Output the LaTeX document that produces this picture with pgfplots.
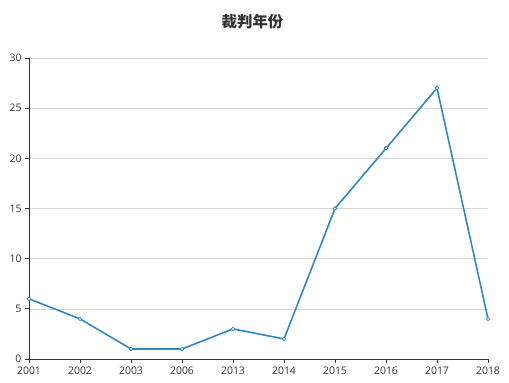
\documentclass[border=0pt]{standalone}
\usepackage{pgfplots}
\pgfplotsset{compat=1.18}
\usepackage{fontspec}
\setmainfont{Open Sans}
\newfontfamily\cjk{Noto Sans CJK SC}
\usetikzlibrary{calc}
\definecolor{lineblue}{HTML}{2E88C4}
\definecolor{axisgray}{HTML}{333333}
\definecolor{gridgray}{HTML}{D6D6D6}
\begin{document}
\begin{tikzpicture}
\begin{axis}[
  name=ax,
  at={(0,0)}, anchor=south west,
  scale only axis,
  width=459bp, height=301bp,
  xmin=0, xmax=9, ymin=0, ymax=30,
  xtick={0,...,9},
  xticklabels={2001,2002,2003,2006,2013,2014,2015,2016,2017,2018},
  ytick={0,5,...,30},
  axis x line*=bottom, axis y line*=left,
  axis line style={axisgray, line width=0.8pt, -},
  tick align=outside,
  major tick length=4bp,
  tick style={axisgray, line width=0.8pt},
  ymajorgrids,
  grid style={gridgray, line width=0.6pt},
  ticklabel style={font=\fontsize{10.5}{11}\selectfont, text=axisgray},
  /pgf/number format/assume math mode=true,
  clip=false,
]
\addplot[lineblue, line width=1.6pt, mark=*, mark size=1.8pt,
  mark options={fill=white, draw=lineblue, line width=0.8pt}]
  coordinates {(0,6) (1,4) (2,1) (3,1) (4,3) (5,2) (6,15) (7,21) (8,27) (9,4)};
\end{axis}
\node[font=\cjk\bfseries\fontsize{15.5}{17}\selectfont, text=axisgray] at ($(ax.north)+(-6bp,36bp)$) {裁判年份};
\pgfresetboundingbox
\path[use as bounding box] ($(ax.south west)+(-29bp,-23bp)$) rectangle ($(ax.north east)+(21bp,58bp)$);
\end{tikzpicture}
\end{document}
